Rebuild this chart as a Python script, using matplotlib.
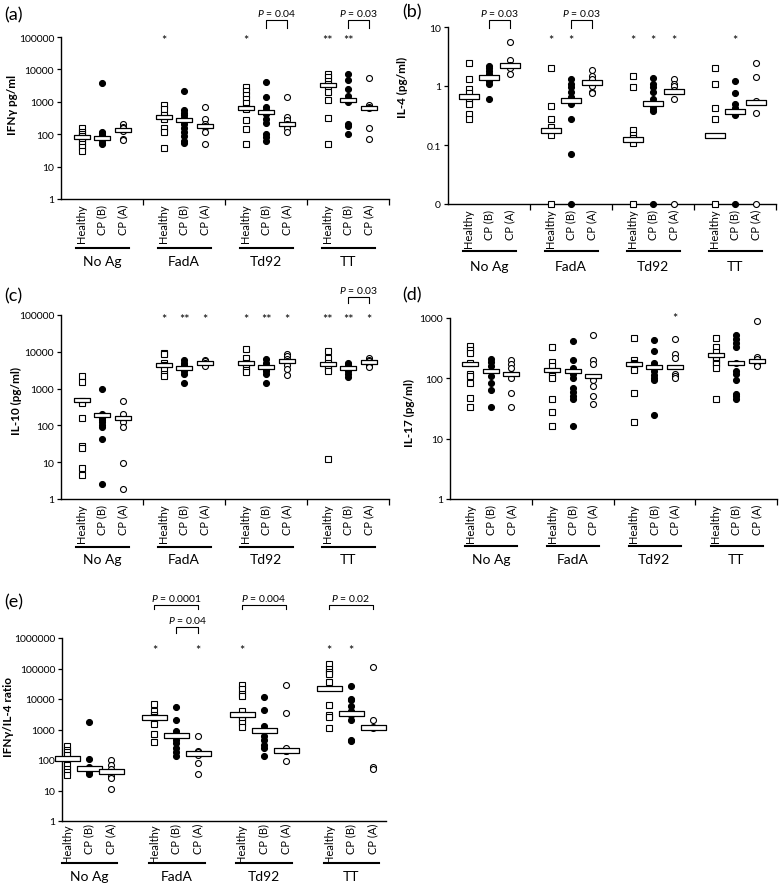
import matplotlib.pyplot as plt
from matplotlib.ticker import NullLocator

plt.rcParams['font.family'] = ['Lato', 'DejaVu Sans']
plt.rcParams['mathtext.fontset'] = 'custom'
plt.rcParams['mathtext.rm'] = 'Lato'
plt.rcParams['mathtext.it'] = 'Lato:italic'

antigens = ['No Ag', 'FadA', 'Td92', 'TT']
groups = ['Healthy', 'CP (B)', 'CP (A)']

# (a) IFN-gamma, pg/ml  -- one list per antigen
ifng_healthy = [[150, 120, 100, 85, 75, 60, 50, 40, 30],
                [800, 600, 400, 300, 160, 120, 38],
                [2800, 2200, 1600, 1200, 900, 650, 600, 280, 140, 50],
                [7000, 6000, 4500, 3500, 3000, 2000, 1100, 310, 50]]
ifng_cpb = [[3800, 120, 110, 95, 85, 75, 65, 55, 50],
            [2100, 550, 450, 400, 320, 250, 200, 160, 120, 90, 60, 55],
            [4200, 1400, 700, 550, 500, 420, 300, 220, 100, 80, 60],
            [7000, 4700, 2500, 1500, 1100, 1000, 200, 180, 100]]
ifng_cpa = [[200, 170, 150, 130, 70, 65],
            [700, 300, 200, 180, 170, 120, 50],
            [1400, 330, 280, 200, 180, 160, 120],
            [5500, 800, 700, 650, 150, 70]]
ifng_median = [[80, 75, 135], [350, 270, 180], [650, 500, 200], [3400, 1100, 650]]
ifng_stars = [['', '', ''], ['*', '', ''], ['*', '', ''], ['**', '**', '']]
ifng_brackets = [(2, 1, 2, '0.04', 0), (3, 1, 2, '0.03', 0)]

# (b) IL-4, pg/ml (0 drawn on the bottom line)
il4_healthy = [[2.5, 1.3, 0.9, 0.75, 0.6, 0.5, 0.33, 0.28],
               [2.0, 0.45, 0.28, 0.2, 0.15, 0],
               [1.5, 0.95, 0.18, 0.15, 0.13, 0.11, 0],
               [2.0, 1.1, 0.43, 0.28, 0]]
il4_cpb = [[2.2, 2.0, 1.8, 1.6, 1.5, 1.4, 1.3, 1.2, 1.1, 0.6],
           [1.3, 1.1, 0.95, 0.8, 0.65, 0.5, 0.28, 0.07, 0],
           [1.35, 1.1, 0.95, 0.8, 0.6, 0.5, 0.45, 0.4, 0.38, 0],
           [1.2, 0.75, 0.5, 0.42, 0.38, 0.35, 0.33, 0.32, 0]]
il4_cpa = [[5.5, 2.8, 2.3, 2.2, 2.0, 1.6],
           [1.9, 1.5, 1.3, 1.1, 1.0, 0.8, 0.75],
           [1.3, 1.1, 1.0, 0.85, 0.6, 0],
           [2.5, 1.4, 0.55, 0.35, 0]]
il4_median = [[0.69, 1.42, 2.3], [0.18, 0.59, 1.17], [0.128, 0.52, 0.83], [0.15, 0.376, 0.535]]
il4_stars = [['', '', ''], ['*', '*', ''], ['*', '*', '*'], ['', '*', '']]
il4_brackets = [(0, 1, 2, '0.03', 0), (1, 1, 2, '0.03', 0)]

# (c) IL-10, pg/ml
il10_healthy = [[2200, 1500, 450, 400, 160, 28, 25, 7, 4.5],
                [9000, 8500, 5000, 4500, 3500, 2500, 2200],
                [12000, 7000, 5000, 4000, 3200, 2800],
                [10500, 7000, 5000, 4000, 3500, 3000, 12]]
il10_cpb = [[950, 200, 180, 160, 140, 120, 100, 90, 42, 2.5],
            [6000, 5000, 4500, 4000, 3500, 3000, 2500, 1400],
            [6500, 5000, 4000, 3500, 3000, 2500, 1400],
            [5000, 4500, 4000, 3500, 3000, 2500, 2100]]
il10_cpa = [[450, 200, 120, 90, 9.5, 1.9],
            [6000, 5500, 5000, 4500, 4200],
            [8500, 7500, 6500, 5500, 4500, 3500, 2300],
            [7000, 6000, 5500, 4500, 3800]]
il10_median = [[490, 190, 155], [4500, 3700, 5100], [5000, 3900, 5600], [4600, 3700, 5300]]
il10_stars = [['', '', ''], ['*', '**', '*'], ['*', '**', '*'], ['**', '**', '*']]
il10_brackets = [(3, 1, 2, '0.03', 0)]

# (d) IL-17, pg/ml
il17_healthy = [[350, 300, 260, 180, 120, 110, 85, 47, 33],
                [330, 190, 160, 130, 110, 100, 45, 28, 16],
                [470, 200, 180, 170, 150, 140, 57, 19],
                [470, 330, 270, 230, 200, 180, 170, 150, 45]]
il17_cpb = [[210, 190, 160, 130, 110, 85, 63, 33],
            [420, 200, 150, 120, 100, 70, 60, 50, 45, 16],
            [430, 280, 180, 160, 130, 115, 100, 95, 25],
            [520, 450, 380, 330, 180, 130, 120, 95, 55, 50, 45]]
il17_cpa = [[200, 170, 150, 120, 100, 57, 33],
            [520, 200, 170, 100, 95, 75, 50, 37],
            [450, 250, 220, 120, 110, 100],
            [900, 230, 210, 190, 180, 170, 160]]
il17_median = [[170, 130, 118], [137, 130, 108], [172, 156, 152], [243, 178, 192]]
il17_stars = [['', '', ''], ['', '', ''], ['', '', '*'], ['', '', '']]
il17_brackets = []

# (e) IFN-gamma / IL-4 ratio
ratio_healthy = [[280, 220, 180, 150, 100, 70, 50, 40, 33],
                 [7000, 4000, 3000, 2500, 2000, 1500, 700, 400],
                 [28000, 22000, 15000, 13000, 4000, 3000, 2500, 2000, 1600, 1200],
                 [140000, 100000, 75000, 65000, 35000, 6500, 3000, 2500, 1100]]
ratio_cpb = [[1800, 110, 60, 55, 50, 45, 40, 35],
             [5500, 2000, 900, 700, 550, 450, 350, 250, 180, 140],
             [12000, 4500, 1300, 1000, 600, 450, 300, 250, 140],
             [27000, 10000, 9000, 6000, 4000, 3500, 3000, 2000, 450, 420]]
ratio_cpa = [[100, 70, 50, 40, 30, 25, 11],
             [600, 200, 180, 150, 80, 35],
             [28000, 3500, 250, 200, 190, 95],
             [110000, 2000, 1200, 1100, 60, 50]]
ratio_median = [[113, 56, 44], [2500, 650, 173], [3200, 960, 220], [23000, 3600, 1230]]
ratio_stars = [['', '', ''], ['*', '', '*'], ['*', '', ''], ['*', '*', '']]
ratio_brackets = [(1, 0, 2, '0.0001', 1), (1, 1, 2, '0.04', 0),
                  (2, 0, 2, '0.004', 1), (3, 0, 2, '0.02', 1)]

W, H = 781, 887
fig = plt.figure(figsize=(W / 100, H / 100), dpi=100)


def add_ax(left, top, right, bottom):
    return fig.add_axes([left / W, 1 - bottom / H, (right - left) / W, (bottom - top) / H])


def draw_panel(ax, healthy, cpb, cpa, median, stars, brackets, ylim, yticks, ylabels,
               ylabel, label_xy, star_y, bar_w, bar_h=0.25, levels=((17, 8, 2),),
               floor=None, seps=True, xlim=(0, 16), lab_pad=3.5, line_dy=49, name_dy=62):
    hpx = ax.bbox.height
    tr = ax.get_xaxis_transform()
    bar = [(-1, -bar_h), (1, -bar_h), (1, bar_h), (-1, bar_h), (-1, -bar_h)]
    styles = [dict(marker='s', mfc='white'), dict(marker='o', mfc='black'),
              dict(marker='o', mfc='white')]
    for g in range(4):
        for k, vals in enumerate([healthy[g], cpb[g], cpa[g]]):
            x = 4 * g + k + 1
            v = [floor if (floor and val == 0) else val for val in vals]
            ax.plot([x] * len(v), v, ls='none', ms=4.3, mec='black', mew=0.8,
                    clip_on=False, zorder=3, **styles[k])
            ax.plot([x], [median[g][k]], ls='none', marker=bar, ms=bar_w,
                    mfc='white', mec='black', mew=0.9, zorder=4, clip_on=False)
            if stars[g][k]:
                ax.text(x, star_y, stars[g][k], ha='center', va='center', fontsize=9)
        # group underline + name
        ax.plot([4 * g + 0.75, 4 * g + 3.3], [-line_dy / hpx] * 2, color='black', lw=1.5,
                transform=tr, clip_on=False)
        ax.text(4 * g + 2, -name_dy / hpx, antigens[g], transform=tr, ha='center',
                va='center', fontsize=10)

    for g, i, j, p, lev in brackets:
        top, tick, gap = levels[lev]
        x1, x2 = 4 * g + i + 1, 4 * g + j + 1
        ax.plot([x1, x1, x2, x2], [1 + tick / hpx, 1 + top / hpx, 1 + top / hpx, 1 + tick / hpx],
                color='black', lw=0.8, transform=tr, clip_on=False)
        ax.text((x1 + x2) / 2, 1 + (top + gap) / hpx, r'$P$ = ' + p, transform=tr,
                ha='center', va='bottom', fontsize=7.5)

    ax.set_yscale('log')
    ax.set_ylim(*ylim)
    ax.set_xlim(*xlim)
    ax.set_yticks(yticks, ylabels)
    ax.yaxis.set_minor_locator(NullLocator())
    pos = [4 * g + k + 1 for g in range(4) for k in range(3)]
    ax.set_xticks(pos, groups * 4, rotation=90, fontsize=8)
    if seps:
        ax.set_xticks([4, 8, 12, 16], minor=True)
    ax.tick_params(axis='x', which='major', length=0, pad=lab_pad)
    ax.tick_params(axis='x', which='minor', length=4, width=0.9, direction='out')
    ax.tick_params(axis='y', length=3, width=0.9, labelsize=7.5, pad=2)
    for s in ['top', 'right']:
        ax.spines[s].set_visible(False)
    for s in ['left', 'bottom']:
        ax.spines[s].set_linewidth(1.0)
    ax.set_ylabel(ylabel, fontsize=8.5, fontweight='bold')
    ax.yaxis.set_label_coords(*label_xy)


decades = [1, 10, 100, 1000, 10000, 100000, 1000000]
dec_lab = [str(d) for d in decades]

ax_a = add_ax(61, 38, 389, 200)
draw_panel(ax_a, ifng_healthy, ifng_cpb, ifng_cpa, ifng_median, ifng_stars, ifng_brackets,
           (1, 1e5), decades[:6], dec_lab[:6], 'IFNγ pg/ml', (-0.131, 0.586), 8.1e4, 12.2,
           levels=((17, 9, 2),))

ax_b = add_ax(448, 28, 776, 205)
draw_panel(ax_b, il4_healthy, il4_cpb, il4_cpa, il4_median, il4_stars, il4_brackets,
           (0.01, 10), [0.01, 0.1, 1, 10], ['0', '0.1', '1', '10'], 'IL-4 (pg/ml)',
           (-0.122, 0.667), 6.0, 14.4, levels=((7, -1, 2),), floor=0.01, line_dy=47)

ax_c = add_ax(61, 316, 389, 500)
draw_panel(ax_c, il10_healthy, il10_cpb, il10_cpa, il10_median, il10_stars, il10_brackets,
           (1, 1e5), decades[:6], dec_lab[:6], 'IL-10 (pg/ml)', (-0.119, 0.538), 7.8e4, 12.2,
           levels=((18, 12, 2),), line_dy=48, name_dy=60)

ax_d = add_ax(450, 319, 777, 500)
draw_panel(ax_d, il17_healthy, il17_cpb, il17_cpa, il17_median, il17_stars, il17_brackets,
           (1, 1000), decades[:4], dec_lab[:4], 'IL-17 (pg/ml)', (-0.107, 0.48), 1e3, 12.2,
           line_dy=47, name_dy=60)

ax_e = add_ax(62, 639, 386, 822)
draw_panel(ax_e, ratio_healthy, ratio_cpb, ratio_cpa, ratio_median, ratio_stars, ratio_brackets,
           (1, 1e6), decades, dec_lab, 'IFNγ/IL-4 ratio', (-0.148, 0.574), 4.0e5, 18,
           bar_h=0.2, levels=((11, 5, 2), (33, 29, 2)), seps=False, xlim=(0.77, 15.6),
           lab_pad=1.5, line_dy=42, name_dy=55)

for txt, x, y in [('(a)', 4, 15), ('(b)', 402, 12), ('(c)', 4, 296), ('(d)', 402, 295),
                  ('(e)', 4, 602)]:
    fig.text(x / W, 1 - y / H, txt, fontsize=13, ha='left', va='center')

plt.savefig('out.png', dpi=100)
